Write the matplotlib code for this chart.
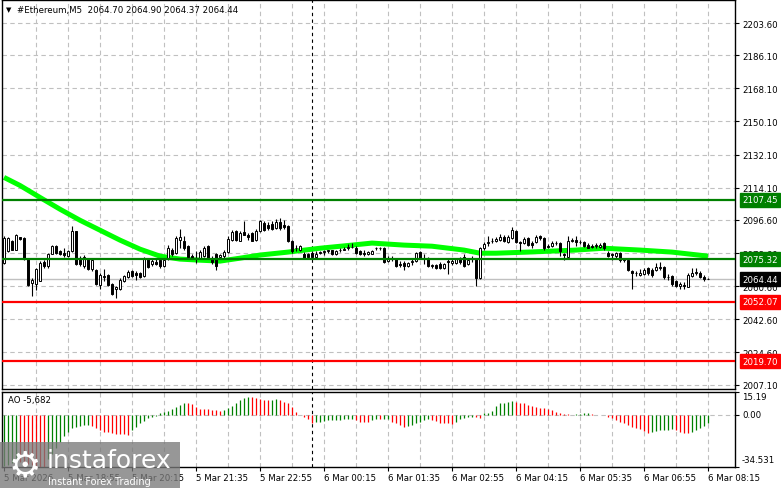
import matplotlib
matplotlib.use("Agg")
import matplotlib.pyplot as plt
from matplotlib.patches import Rectangle
from matplotlib.transforms import blended_transform_factory

W, H, DPI = 781, 489, 100

# ---- data (#Ethereum M5) ----
price_ticks = [2203.60, 2186.10, 2168.10, 2150.10, 2132.10, 2114.10, 2096.60,
               2078.60, 2060.60, 2042.60, 2024.60, 2007.10]
date_labels = ["5 Mar 2026", "5 Mar 18:55", "5 Mar 20:15", "5 Mar 21:35",
               "5 Mar 22:55", "6 Mar 00:15", "6 Mar 01:35", "6 Mar 02:55",
               "6 Mar 04:15", "6 Mar 05:35", "6 Mar 06:55", "6 Mar 08:15"]

opens = [
    2073.4, 2079.6, 2085.0, 2080.5, 2087.2, 2086.8, 2075.2, 2062.1, 2061.7, 2063.5,
    2073.9, 2071.6, 2078.2, 2082.3, 2079.6, 2078.7, 2076.95, 2079.6, 2090.4, 2076.1,
    2071.6, 2075.2, 2069.8, 2069.3, 2061.4, 2066.2, 2066.8, 2061.7, 2058.9, 2059.1,
    2063.2, 2065.3, 2068.9, 2067.8, 2068.0, 2066.2, 2075.2, 2072.5, 2073.9, 2074.6,
    2071.6, 2075.2, 2080.5, 2078.7, 2085.9, 2085.0, 2082.3, 2076.95, 2076.1, 2076.1,
    2076.95, 2082.3, 2076.1, 2078.2, 2076.4, 2076.95, 2079.3, 2085.9, 2090.7, 2085.4,
    2090.0, 2088.6, 2089.5, 2085.9, 2090.4, 2094.85, 2094.0, 2094.3, 2092.2, 2095.4,
    2094.0, 2093.1, 2085.0, 2081.1, 2080.5, 2078.2, 2077.85, 2078.7, 2076.4, 2078.7,
    2079.3, 2079.6, 2080.0, 2077.85, 2080.0, 2080.5, 2081.4, 2081.8, 2081.4, 2079.6,
    2078.7, 2078.2, 2078.2, 2081.1, 2081.25, 2081.4, 2074.3, 2075.7, 2075.2, 2072.8,
    2073.4, 2071.6, 2073.9, 2074.3, 2079.3, 2075.7, 2076.1, 2071.6, 2072.1, 2072.8,
    2070.7, 2074.3, 2073.4, 2073.4, 2075.2, 2076.4, 2072.8, 2075.2, 2075.7, 2065.0,
    2081.1, 2084.1, 2085.0, 2085.0, 2085.9, 2087.2, 2084.7, 2086.8, 2090.7, 2084.7,
    2084.1, 2086.8, 2084.1, 2084.7, 2087.7, 2086.8, 2082.3, 2082.3, 2084.1, 2084.1,
    2077.85, 2076.4, 2085.4, 2085.9, 2084.7, 2084.7, 2083.2, 2082.3, 2082.3, 2081.8,
    2084.1, 2078.7, 2077.85, 2076.95, 2078.7, 2075.2, 2074.6, 2068.9, 2068.0, 2066.8,
    2067.1, 2070.3, 2069.3, 2069.3, 2070.3, 2071.05, 2065.7, 2066.2, 2063.2, 2060.8,
    2061.4, 2060.3, 2066.2, 2068.0, 2068.0, 2065.3, 2064.70]
highs = [
    2087.7, 2087.3, 2085.9, 2089.0, 2087.5, 2087.2, 2076.1, 2065.0, 2070.7, 2074.3,
    2074.6, 2078.7, 2082.9, 2083.2, 2080.5, 2081.4, 2080.0, 2093.1, 2090.7, 2076.95,
    2077.5, 2076.1, 2075.5, 2069.8, 2067.5, 2069.8, 2067.1, 2062.1, 2060.8, 2065.0,
    2066.8, 2069.3, 2069.3, 2068.9, 2068.5, 2076.4, 2076.1, 2075.2, 2075.2, 2075.2,
    2075.7, 2082.9, 2081.4, 2087.7, 2091.8, 2087.7, 2082.9, 2077.85, 2079.6, 2080.0,
    2082.3, 2082.9, 2076.95, 2078.7, 2078.2, 2080.0, 2087.7, 2091.3, 2091.3, 2090.4,
    2096.1, 2089.5, 2090.0, 2091.8, 2096.6, 2095.75, 2095.4, 2096.1, 2097.2, 2097.5,
    2096.6, 2093.6, 2085.9, 2083.2, 2083.2, 2079.3, 2078.7, 2079.6, 2079.6, 2079.6,
    2080.0, 2080.5, 2080.5, 2080.5, 2081.4, 2081.8, 2083.6, 2084.1, 2082.3, 2080.5,
    2080.0, 2079.6, 2080.5, 2081.8, 2081.8, 2081.8, 2076.95, 2076.95, 2075.7, 2074.3,
    2074.3, 2073.9, 2075.2, 2079.3, 2079.6, 2077.85, 2076.4, 2072.8, 2072.8, 2073.9,
    2073.4, 2075.2, 2075.2, 2076.1, 2076.4, 2077.85, 2076.1, 2076.95, 2076.1, 2081.8,
    2084.7, 2087.7, 2086.8, 2087.2, 2089.0, 2088.2, 2088.2, 2092.5, 2091.3, 2085.4,
    2087.2, 2087.2, 2085.4, 2088.2, 2088.2, 2087.2, 2083.6, 2085.0, 2085.0, 2084.7,
    2078.7, 2087.7, 2086.8, 2087.7, 2085.9, 2085.4, 2084.1, 2083.6, 2084.1, 2084.1,
    2084.7, 2079.6, 2078.7, 2079.3, 2079.3, 2076.1, 2075.2, 2069.3, 2068.9, 2069.8,
    2070.3, 2071.05, 2070.3, 2073.4, 2073.9, 2071.6, 2067.1, 2066.8, 2063.9, 2062.6,
    2062.6, 2068.0, 2070.7, 2070.7, 2068.9, 2066.8, 2064.90]
lows = [
    2072.5, 2079.3, 2080.0, 2080.2, 2085.9, 2074.8, 2060.8, 2055.5, 2058.5, 2063.2,
    2070.7, 2070.7, 2077.85, 2078.2, 2077.5, 2076.4, 2076.6, 2079.3, 2072.1, 2071.6,
    2070.7, 2069.3, 2068.9, 2061.4, 2059.1, 2063.5, 2060.8, 2056.0, 2054.2, 2058.5,
    2062.6, 2065.0, 2065.3, 2063.9, 2065.0, 2065.7, 2070.3, 2071.6, 2072.1, 2070.7,
    2071.05, 2074.6, 2076.95, 2078.2, 2081.4, 2080.5, 2075.7, 2075.2, 2073.4, 2075.2,
    2076.4, 2075.2, 2072.5, 2069.3, 2075.2, 2076.1, 2078.7, 2085.4, 2085.4, 2085.0,
    2088.2, 2085.9, 2085.0, 2085.0, 2090.0, 2090.7, 2091.3, 2091.3, 2091.8, 2091.3,
    2091.8, 2084.7, 2078.7, 2079.6, 2079.6, 2075.7, 2075.7, 2076.1, 2076.1, 2077.85,
    2077.5, 2078.7, 2077.5, 2077.5, 2079.3, 2080.0, 2080.5, 2081.4, 2078.2, 2077.5,
    2076.95, 2077.5, 2077.85, 2080.5, 2080.5, 2073.4, 2073.9, 2074.3, 2071.05, 2071.05,
    2069.3, 2071.05, 2072.1, 2073.9, 2075.2, 2072.5, 2071.05, 2070.3, 2069.8, 2069.8,
    2069.8, 2067.1, 2072.1, 2072.8, 2072.8, 2071.05, 2072.1, 2073.9, 2060.8, 2064.4,
    2080.5, 2082.3, 2084.1, 2084.7, 2085.4, 2084.7, 2084.1, 2086.4, 2084.1, 2079.6,
    2083.6, 2082.3, 2081.4, 2084.1, 2085.9, 2080.5, 2081.1, 2081.8, 2083.2, 2076.95,
    2074.6, 2076.1, 2084.7, 2082.3, 2083.6, 2081.8, 2081.1, 2081.1, 2081.4, 2081.4,
    2080.5, 2076.4, 2074.6, 2076.1, 2073.9, 2073.9, 2068.9, 2059.1, 2066.2, 2066.2,
    2066.8, 2066.8, 2065.7, 2068.9, 2069.3, 2064.4, 2063.9, 2060.8, 2059.95, 2059.1,
    2059.1, 2059.95, 2065.7, 2066.8, 2065.0, 2063.2, 2064.37]
closes = [
    2086.8, 2086.8, 2080.5, 2088.2, 2086.3, 2075.2, 2061.4, 2063.9, 2069.8, 2073.4,
    2071.6, 2078.2, 2082.3, 2078.7, 2078.2, 2077.5, 2079.6, 2090.7, 2072.5, 2072.5,
    2076.4, 2069.8, 2074.6, 2061.7, 2066.8, 2065.7, 2061.4, 2056.4, 2059.95, 2063.9,
    2066.05, 2068.5, 2066.2, 2066.8, 2065.7, 2075.7, 2071.05, 2074.3, 2072.8, 2071.6,
    2074.8, 2081.4, 2078.2, 2086.8, 2087.2, 2081.4, 2076.4, 2076.1, 2075.2, 2079.3,
    2081.4, 2076.1, 2073.9, 2071.6, 2077.5, 2079.3, 2086.4, 2090.0, 2085.9, 2089.5,
    2088.6, 2087.2, 2085.4, 2090.7, 2095.75, 2091.3, 2092.2, 2091.8, 2095.4, 2092.2,
    2092.5, 2085.4, 2079.6, 2081.4, 2082.3, 2076.1, 2076.4, 2076.4, 2078.2, 2079.1,
    2079.6, 2080.0, 2077.85, 2079.6, 2080.5, 2080.9, 2082.0, 2082.1, 2078.7, 2077.85,
    2078.2, 2079.1, 2079.6, 2081.25, 2081.1, 2073.9, 2076.1, 2076.1, 2071.6, 2072.1,
    2071.6, 2073.0, 2074.3, 2078.7, 2076.1, 2075.2, 2071.6, 2072.1, 2070.7, 2070.7,
    2072.8, 2073.9, 2074.3, 2075.2, 2073.9, 2071.6, 2074.6, 2076.1, 2065.0, 2081.4,
    2083.6, 2084.7, 2085.2, 2086.4, 2087.3, 2085.4, 2087.2, 2091.3, 2084.7, 2084.3,
    2086.4, 2083.2, 2082.9, 2087.5, 2086.8, 2081.1, 2081.8, 2084.1, 2084.3, 2079.6,
    2077.5, 2085.0, 2085.9, 2084.7, 2084.5, 2082.3, 2081.4, 2082.0, 2083.2, 2082.9,
    2081.4, 2076.95, 2077.5, 2078.7, 2074.6, 2074.8, 2069.3, 2068.0, 2067.65, 2068.0,
    2069.3, 2067.5, 2066.8, 2071.05, 2071.05, 2065.3, 2065.3, 2061.7, 2060.8, 2061.7,
    2060.8, 2066.8, 2068.0, 2068.5, 2065.3, 2064.6, 2064.44]

# moving average (thick lime line), sampled at bar indices
ma_idx = [0, 4, 9, 14, 19, 24, 29, 34, 39, 44, 49, 54, 59, 64, 71, 79, 87, 92,
          100, 107, 115, 119, 123, 131, 143, 150, 159, 167, 176]
ma_val = [2119.7, 2115.3, 2108.8, 2102.4, 2096.4, 2091.0, 2085.6, 2080.7, 2076.9,
          2075.3, 2074.7, 2074.2, 2075.8, 2077.5, 2079.1, 2081.2, 2082.9, 2084.0,
          2082.9, 2082.3, 2080.2, 2078.5, 2078.5, 2079.1, 2080.2, 2081.2, 2080.2,
          2079.1, 2076.9]

# Awesome Oscillator
ao = [
    -34.0, -33.0, -32.0, -31.0, -31.5, -32.0, -32.5, -33.2, -33.8, -34.2,
    -34.5, -29.0, -26.0, -22.0, -18.0, -14.0, -11.0, -9.0, -7.7, -7.3,
    -6.6, -6.4, -7.5, -9.0, -10.0, -11.0, -11.6, -12.0, -12.4, -12.7,
    -12.9, -13.0, -10.0, -7.7, -5.5, -3.8, -2.2, -1.1, -0.4, 1.5,
    2.2, 2.9, 3.8, 5.1, 6.6, 8.2, 8.0, 7.5, 5.5, 3.8,
    3.7, 3.6, 3.5, 3.3, 2.9, 3.0, 4.4, 5.9, 8.0, 9.7,
    11.5, 12.2, 11.7, 11.0, 10.4, 9.9, 9.8, 10.2, 10.3, 9.9,
    8.8, 7.7, 5.5, 2.2, 0.0, -1.5, -2.9, -5.5, -5.0, -4.4,
    -3.8, -3.7, -3.3, -3.2, -3.1, -3.0, -2.9, -2.8, -3.3, -4.4,
    -4.5, -4.6, -3.5, -2.9, -3.0, -2.8, -2.6, -4.4, -5.5, -6.6,
    -7.7, -7.3, -6.6, -5.1, -4.4, -3.3, -2.9, -3.3, -3.8, -5.1,
    -5.5, -5.6, -6.0, -4.4, -2.9, -2.2, -1.5, -1.1, -1.5, -2.2,
    1.1, 1.5, 2.9, 5.9, 7.7, 8.2, 8.6, 9.5, 8.8, 8.2,
    7.7, 6.6, 5.9, 5.1, 4.4, 4.3, 3.8, 3.3, 2.2, 1.5,
    0.7, 0.4, 0.2, 0.3, 0.4, 1.0, 1.1, 0.6, 0.2, -0.1,
    -0.3, -1.1, -2.2, -3.3, -4.4, -5.5, -6.6, -7.7, -8.8, -9.5,
    -10.4, -11.7, -11.0, -10.4, -9.9, -9.8, -9.7, -9.6, -10.2, -11.0,
    -11.7, -11.8, -11.0, -9.9, -8.8, -7.3, -5.682]
ao_max, ao_min = 15.19, -34.531

resistance = [2107.45, 2075.32]
support = [2052.07, 2019.70]
last_price = 2064.44
day_break = 77        # bar of 6 Mar 00:00

# ---- layout helpers (pixel -> figure fraction) ----
def fx(px):
    return px / W

def fy(py):
    return 1 - py / H

FS = 6.2
GRID = dict(color="#c0c0c0", lw=0.8, ls=(0, (4, 3)), zorder=0)

fig = plt.figure(figsize=(W / DPI, H / DPI), dpi=DPI)
ax = fig.add_axes([fx(2), fy(390), fx(735) - fx(2), fy(1) - fy(390)])
ax2 = fig.add_axes([fx(2), fy(468), fx(735) - fx(2), fy(393) - fy(468)], sharex=ax)

n = len(closes)
idx = list(range(n))
xmax = 182.75

# ---- main panel ----
ax.set_xlim(-0.5, xmax)
ax.set_ylim(2004.7, 2216.1)
for p in price_ticks:
    ax.axhline(p, **GRID)
for k in range(8, int(xmax), 8):
    ax.axvline(k, **GRID)
    ax2.axvline(k, **GRID)

ax.axhline(last_price, color="#c0c0c0", lw=1.0, zorder=1)

ax.plot(ma_idx, ma_val, color="#00ff00", lw=3.6, solid_capstyle="butt", zorder=2)

ax.vlines(idx, lows, highs, color="black", lw=0.8, zorder=3)
bottoms = [min(o, c) for o, c in zip(opens, closes)]
heights = [max(abs(c - o), 0.2) for o, c in zip(opens, closes)]
faces = ["white" if c >= o else "black" for o, c in zip(opens, closes)]
ax.bar(idx, heights, bottom=bottoms, width=0.62, color=faces,
       edgecolor="black", linewidth=0.7, zorder=3.5)

for r in resistance:
    ax.axhline(r, color="#008000", lw=1.6, zorder=4)
for s in support:
    ax.axhline(s, color="#ff0000", lw=1.6, zorder=4)

ax.axvline(day_break, color="black", lw=0.8, ls=(0, (3, 3)), zorder=1)
ax2.axvline(day_break, color="black", lw=0.8, ls=(0, (3, 3)), zorder=1)

ax.yaxis.tick_right()
ax.set_yticks(price_ticks)
ax.set_yticklabels([f"{p:.2f}" for p in price_ticks])
ax.tick_params(axis="y", length=3, width=0.8, pad=2, labelsize=FS)
ax.tick_params(axis="x", bottom=False, labelbottom=False)

tr = blended_transform_factory(ax.transAxes, ax.transData)
tags = [(2107.45, "#008000"), (2075.32, "#008000"), (last_price, "black"),
        (2052.07, "#ff0000"), (2019.70, "#ff0000")]
for val, bg in tags:
    ax.text(1 + 7 / 733, val, f"{val:.2f}", transform=tr, ha="left", va="center",
            fontsize=FS, color="white", clip_on=False, zorder=10,
            bbox=dict(boxstyle="square,pad=0.28", fc=bg, ec=bg))

# ---- AO panel ----
ax2.set_ylim(ao_min, ao_max)
ax2.axhline(0, **GRID)
ao_colors = []
for i, v in enumerate(ao):
    up = i == 0 or v >= ao[i - 1]
    ao_colors.append("#008000" if up else "#ff0000")
ax2.vlines(idx, 0, ao, colors=ao_colors, lw=0.9, zorder=3)

ax2.yaxis.tick_right()
ax2.set_yticks([ao_max, 0, ao_min])
ax2.set_yticklabels(["", "", ""])
ax2.tick_params(axis="y", length=3, width=0.8, labelsize=FS)
tr2 = blended_transform_factory(ax2.transAxes, ax2.transData)
ax2.text(1 + 7 / 733, ao_max, "15.19", transform=tr2, ha="left", va="top",
         fontsize=FS, clip_on=False)
ax2.text(1 + 7 / 733, 0, "0.00", transform=tr2, ha="left", va="center",
         fontsize=FS, clip_on=False)
ax2.text(1 + 7 / 733, ao_min + 2.0, "-34.531", transform=tr2, ha="left",
         va="bottom", fontsize=FS, clip_on=False)

ax2.set_xticks(range(0, n, 16))
ax2.set_xticklabels(date_labels, ha="left")
ax2.tick_params(axis="x", length=3, width=0.8, pad=1.5, labelsize=FS)

for a in (ax, ax2):
    for sp in a.spines.values():
        sp.set_color("black")
        sp.set_linewidth(1.0)

# ---- texts ----
fig.text(fx(6), fy(10), "\u25bc", fontsize=5, va="center", ha="left")
fig.text(fx(17), fy(10), "#Ethereum,M5  2064.70 2064.90 2064.37 2064.44",
         fontsize=FS, va="center", ha="left")
fig.text(fx(8), fy(401), "AO -5,682", fontsize=FS, va="center", ha="left")

# watermark
fig.patches.append(Rectangle((0, fy(489)), fx(180), fy(443) - fy(489),
                             transform=fig.transFigure, fc="#7a7a7a", ec="none",
                             alpha=0.78, zorder=20))
fig.text(fx(25), fy(466), "\u2699", fontsize=26, color="white", ha="center",
         va="center", zorder=21)
fig.text(fx(47), fy(461), "instaforex", fontsize=18, color="white", ha="left",
         va="center", zorder=21)
fig.text(fx(48), fy(482), "Instant Forex Trading", fontsize=7, color="white",
         ha="left", va="center", zorder=21)

fig.savefig("out.png", dpi=DPI)
